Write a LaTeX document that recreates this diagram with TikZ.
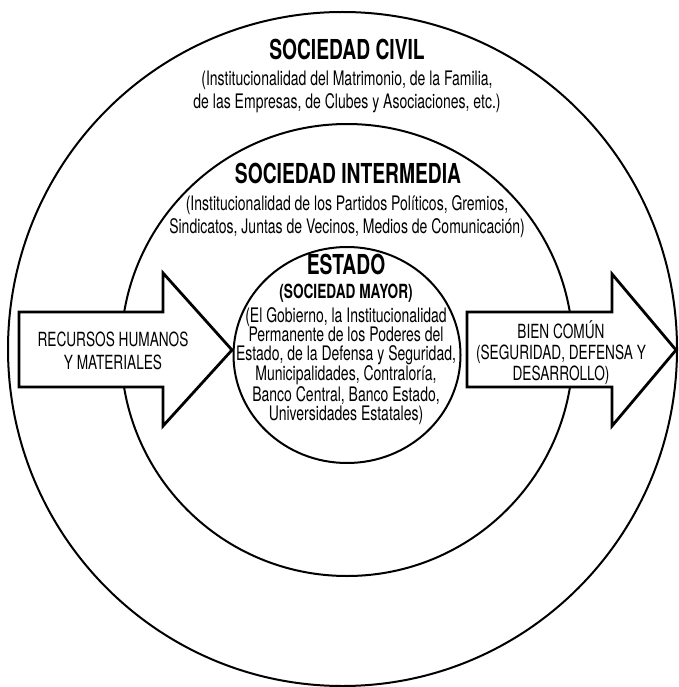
\documentclass[tikz,border=0pt]{standalone}
\usepackage{fontspec}
\setmainfont{TeX Gyre Heros}[FakeStretch=0.7]
\usepackage{tikz}

\tikzset{
  ring/.style={line width=2pt},
  block/.style={line width=2.8pt, fill=white, line join=miter},
  heading/.style={inner sep=0pt, font=\bfseries\fontsize{27.5}{30}\selectfont},
  desc/.style={inner sep=0pt, align=center, font=\fontsize{20}{23}\selectfont},
}

\begin{document}
\begin{tikzpicture}[x=1pt, y=-1pt]
\useasboundingbox (0,0) rectangle (678,687);

% circles (outer, middle, inner)
\draw[ring] (342.5,349) ellipse [x radius=334.5, y radius=337];
\draw[ring] (347,350) circle [radius=226];
\draw[ring, fill=white] (347,355) ellipse [x radius=113.5, y radius=108];

% arrows (left and right)
\draw[block] (19,312) -- (163,312) -- (163,273) -- (232,350)
  -- (163,426) -- (163,387) -- (19,387) -- cycle;
\draw[block] (467,312) -- (612,312) -- (612,274) -- (676,350)
  -- (612,426) -- (612,387) -- (467,387) -- cycle;

% outer ring
\node[heading] (civil) at (347,49) {SOCIEDAD CIVIL};
\node[desc] (civilText) at (347,92) {(Institucionalidad del Matrimonio, de la Familia,\\
  de las Empresas, de Clubes y Asociaciones, etc.)};

% middle ring
\node[heading] (inter) at (348,173) {SOCIEDAD INTERMEDIA};
\node[desc] (interText) at (347,217) {(Institucionalidad de los Partidos Políticos, Gremios,\\
  Sindicatos, Juntas de Vecinos, Medios de Comunicación)};

% inner circle
\node[heading] (estado) at (346,264) {ESTADO};
\node[inner sep=0pt, font=\bfseries\fontsize{19.5}{22}\selectfont] (mayor) at (346,293) {(SOCIEDAD MAYOR)};
\node[desc, font=\fontsize{20}{19}\selectfont] (estadoText) at (346,366) {(El Gobierno, la Institucionalidad\\
  Permanente de los Poderes del\\
  Estado, de la Defensa y Seguridad,\\
  Municipalidades, Contraloría,\\
  Banco Central, Banco Estado,\\
  Universidades Estatales)};

% arrow labels
\node[desc, font=\fontsize{19.5}{23}\selectfont] (recursos) at (113,351) {RECURSOS HUMANOS\\Y MATERIALES};
\node[desc, font=\fontsize{19.5}{21}\selectfont] (bien) at (561,353) {BIEN COMÚN\\(SEGURIDAD, DEFENSA Y\\DESARROLLO)};
\end{tikzpicture}
\end{document}
